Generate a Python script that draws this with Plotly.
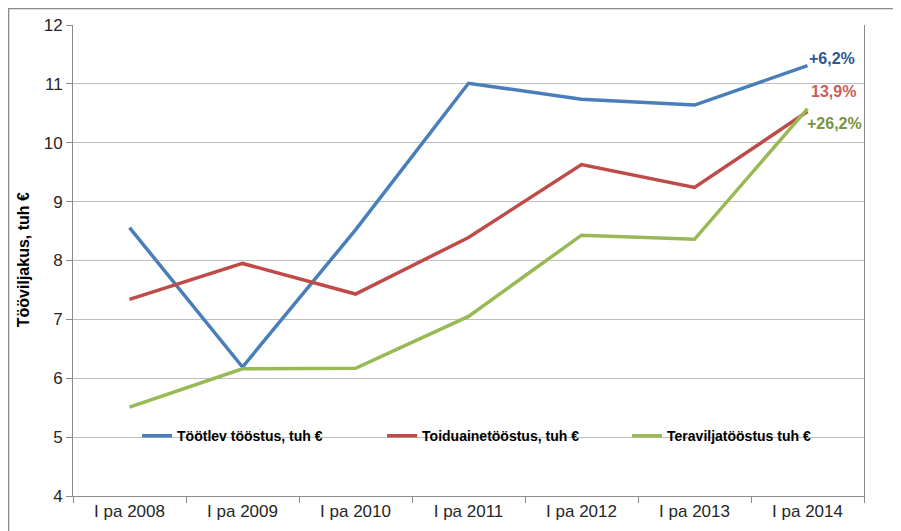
import plotly.graph_objects as go

categories = ["I pa 2008", "I pa 2009", "I pa 2010", "I pa 2011", "I pa 2012", "I pa 2013", "I pa 2014"]
series_names = ["Töötlev tööstus, tuh €", "Toiduainetööstus, tuh €", "Teraviljatööstus tuh €"]
tootlev = [8.56, 6.19, 8.52, 11.01, 10.74, 10.64, 11.31]
toiduaine = [7.34, 7.95, 7.43, 8.39, 9.63, 9.24, 10.53]
teravilja = [5.51, 6.16, 6.17, 7.05, 8.43, 8.36, 10.58]
growth_labels = ["+6,2%", "13,9%", "+26,2%"]
y_title = "Tööviljakus, tuh €"

colors = ["#4A7EBB", "#BE4B48", "#98B954"]
label_colors = ["#2C5790", "#D05A57", "#77933C"]
series = [tootlev, toiduaine, teravilja]

FONT = "Liberation Sans, Arial, sans-serif"

fig = go.Figure()
for name, vals, col in zip(series_names, series, colors):
    fig.add_trace(go.Scatter(x=categories, y=vals, mode="lines", name=name,
                             line=dict(color=col, width=3.5)))

# end labels
offsets = [(-1, 7), (1, 20), (-3, -15)]
for vals, txt, col, (dx, dy) in zip(series, growth_labels, label_colors, offsets):
    fig.add_annotation(x=categories[-1], y=vals[-1], text="<b>" + txt + "</b>",
                       showarrow=False, xanchor="left", yanchor="middle",
                       xshift=dx, yshift=dy,
                       font=dict(family=FONT, size=16, color=col))

# y-axis title as rotated text
fig.add_annotation(xref="paper", yref="paper", x=-0.063, y=0.501, text="<b>" + y_title + "</b>",
                   textangle=-90, showarrow=False, xanchor="center", yanchor="middle",
                   font=dict(family=FONT, size=16, color="#000000"))

fig.update_layout(
    width=901, height=531,
    margin=dict(l=65, r=45, t=17, b=43, autoexpand=False),
    paper_bgcolor="white", plot_bgcolor="white",
    font=dict(family=FONT, size=16, color="#262626"),
    showlegend=True,
    legend=dict(orientation="h", x=0.081, xanchor="left", y=0.127, yanchor="middle",
                bgcolor="rgba(0,0,0,0)",
                font=dict(family=FONT, size=14, color="#000000", weight="bold"),
                entrywidth=200, itemwidth=30, tracegroupgap=0),
    xaxis=dict(type="category", range=[-0.5, 6.5], showline=True, linecolor="#8C8C8C",
               linewidth=1, ticks="outside", tickson="boundaries", ticklen=6,
               tickcolor="#8C8C8C", showgrid=False, mirror=False, automargin=False,
               tickfont=dict(family=FONT, size=17, color="#262626")),
    yaxis=dict(range=[4, 12], dtick=1, showline=True, linecolor="#8C8C8C", linewidth=1,
               mirror=True, ticks="outside", ticklen=6, tickcolor="#8C8C8C",
               showgrid=True, gridcolor="#BEBEBE", gridwidth=1, zeroline=False,
               automargin=False,
               tickfont=dict(family=FONT, size=17, color="#262626")),
)

# white legend backing that hides the gridline behind the legend
fig.add_shape(type="rect", xref="paper", yref="paper",
              x0=0.03, x1=0.97, y0=0.10, y1=0.155,
              line=dict(width=0), fillcolor="white", layer="between")

# outer chart border
fig.add_shape(type="rect", xref="paper", yref="paper",
              x0=-0.0815, x1=1.2, y0=-0.3, y1=1.035,
              line=dict(color="#8C8C8C", width=1.5), fillcolor="rgba(0,0,0,0)", layer="below")

fig.write_html("out.html")
